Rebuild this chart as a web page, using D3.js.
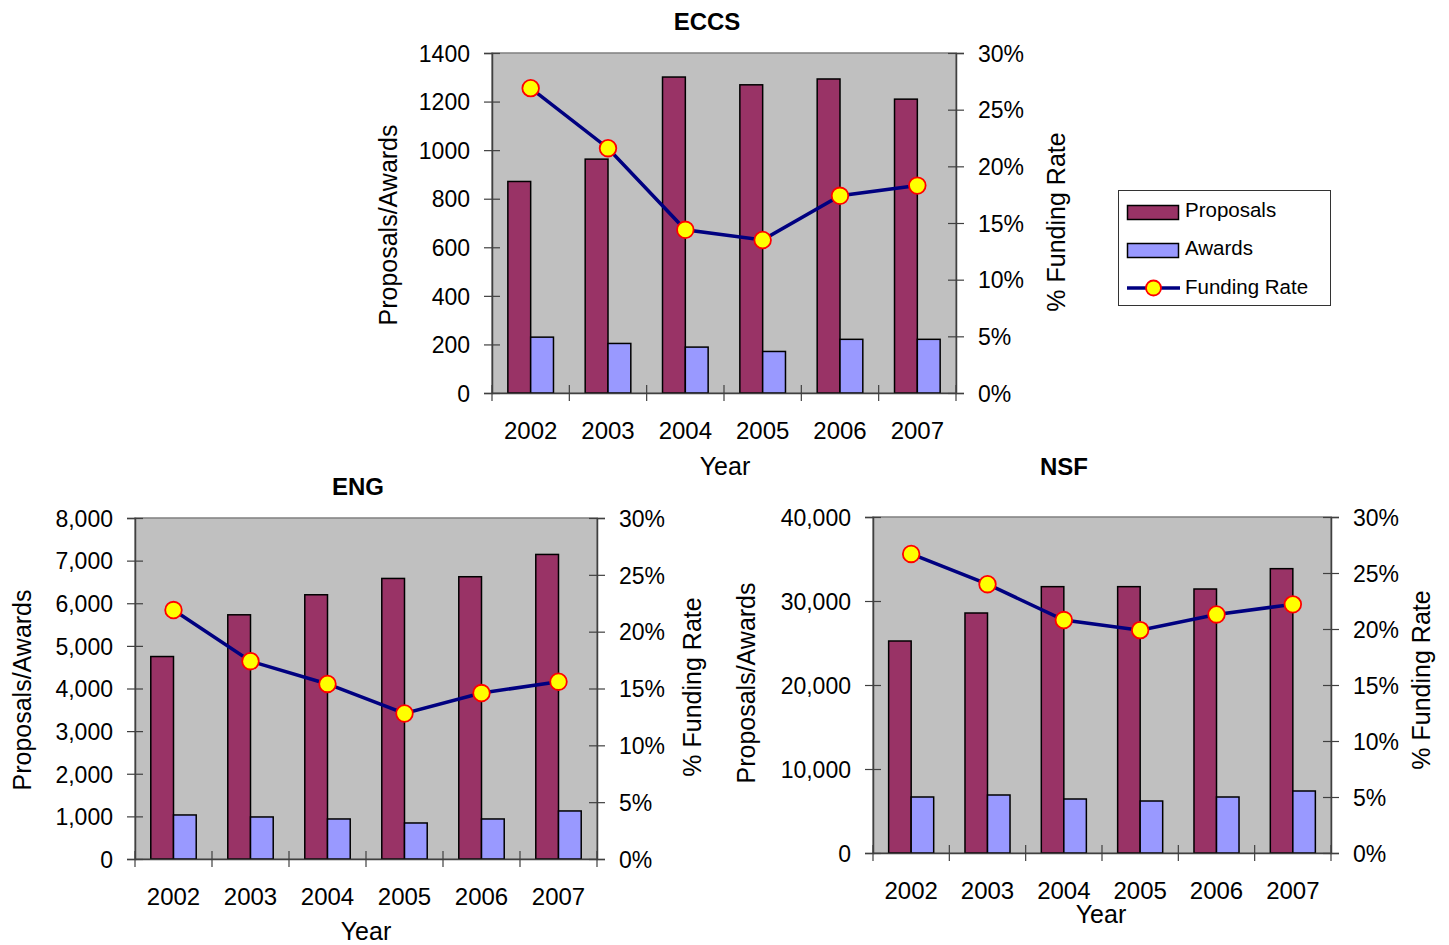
<!DOCTYPE html>
<html>
<head>
<meta charset="utf-8">
<script src="https://cdn.jsdelivr.net/npm/d3@7"></script>
<style>
  body { margin: 0; background: #fff; }
  svg { display: block; font-family: "Liberation Sans", Arial, sans-serif; }
</style>
</head>
<body>
<svg id="chart" width="1449" height="945"></svg>
<script>
// Fiscal years shown on every panel
const years = ["2002", "2003", "2004", "2005", "2006", "2007"];

// ECCS division
const eccsProposals = [871, 963, 1301, 1269, 1293, 1210];
const eccsAwards    = [230, 204, 189, 171, 221, 221];
const eccsRate      = [26.9, 21.6, 14.4, 13.5, 17.4, 18.3];

// Engineering directorate
const engProposals = [4750, 5729, 6199, 6582, 6622, 7145];
const engAwards    = [1033, 986, 939, 845, 939, 1127];
const engRate      = [21.9, 17.4, 15.4, 12.8, 14.6, 15.6];

// NSF overall
const nsfProposals = [25238, 28571, 31706, 31706, 31429, 33849];
const nsfAwards    = [6667, 6905, 6429, 6190, 6667, 7381];
const nsfRate      = [26.7, 24.0, 20.8, 19.9, 21.3, 22.2];

// Axis ticks
const eccsTicks = [0, 200, 400, 600, 800, 1000, 1200, 1400];
const engTicks  = [0, 1000, 2000, 3000, 4000, 5000, 6000, 7000, 8000];
const nsfTicks  = [0, 10000, 20000, 30000, 40000];
const rateTicks = [0, 5, 10, 15, 20, 25, 30];

const legendLabels = ["Proposals", "Awards", "Funding Rate"];

const COLORS = { proposals: "#993366", awards: "#9999FF", line: "#000080", marker: "#FFFF00", markerStroke: "#FF0000", plot: "#C0C0C0" };
const svg = d3.select("#chart");

function drawPanel(p) {
  const x = d3.scaleBand().domain(years).range([p.x0, p.x1]);
  const yL = d3.scaleLinear().domain([0, p.ticks[p.ticks.length - 1]]).range([p.y1, p.y0]);
  const yR = d3.scaleLinear().domain([0, 30]).range([p.y1, p.y0]);
  const g = svg.append("g");

  // plot area
  g.append("rect")
    .attr("x", p.x0).attr("y", p.y0)
    .attr("width", p.x1 - p.x0).attr("height", p.y1 - p.y0)
    .attr("fill", COLORS.plot).attr("stroke", "#808080").attr("stroke-width", 1.5);

  const bw = x.bandwidth() * 0.295;
  const off = (x.bandwidth() - 2 * bw) / 2;

  g.selectAll("rect.prop").data(p.proposals).join("rect").attr("class", "prop")
    .attr("x", (d, i) => x(years[i]) + off)
    .attr("y", d => yL(d))
    .attr("width", bw)
    .attr("height", d => yL(0) - yL(d))
    .attr("fill", COLORS.proposals).attr("stroke", "#000").attr("stroke-width", 1.5);

  g.selectAll("rect.awd").data(p.awards).join("rect").attr("class", "awd")
    .attr("x", (d, i) => x(years[i]) + off + bw)
    .attr("y", d => yL(d))
    .attr("width", bw)
    .attr("height", d => yL(0) - yL(d))
    .attr("fill", COLORS.awards).attr("stroke", "#000").attr("stroke-width", 1.5);

  // left axis
  const axL = g.append("g").attr("transform", `translate(${p.x0},0)`)
    .call(d3.axisLeft(yL).tickValues(p.ticks).tickFormat(p.fmt).tickSizeOuter(0).tickSize(8));
  // right axis
  const axR = g.append("g").attr("transform", `translate(${p.x1},0)`)
    .call(d3.axisRight(yR).tickValues(rateTicks).tickFormat(d => d + "%").tickSizeOuter(0).tickSize(8));
  // bottom axis (labels at band centres)
  const axB = g.append("g").attr("transform", `translate(0,${p.y1})`)
    .call(d3.axisBottom(x).tickSize(0).tickSizeOuter(0));

  [axL, axR, axB].forEach(a => {
    a.attr("font-family", null).attr("font-size", null);
    a.select(".domain").attr("stroke", "#404040").attr("stroke-width", 1.5);
    a.selectAll(".tick line").attr("stroke", "#404040").attr("stroke-width", 1.2);
    a.selectAll(".tick text").attr("fill", "#000");
  });
  axL.selectAll(".tick line").attr("x1", 8).attr("x2", -8);
  axL.selectAll(".tick text").attr("x", -22).attr("dy", "0.36em").style("font-size", "23px");
  axR.selectAll(".tick line").attr("x1", -8).attr("x2", 8);
  axR.selectAll(".tick text").attr("x", 22).attr("dy", "0.36em").style("font-size", "23px");
  axB.selectAll(".tick text").attr("y", 46).attr("dy", null).style("font-size", "24px");

  // category separator ticks on the x axis
  const bounds = years.map(y => x(y)).concat([x.range()[1]]);
  g.selectAll("line.xb").data(bounds).join("line").attr("class", "xb")
    .attr("x1", d => d).attr("x2", d => d)
    .attr("y1", p.y1 - 8).attr("y2", p.y1 + 8)
    .attr("stroke", "#404040").attr("stroke-width", 1.2);

  // funding rate line
  const cx = (d, i) => x(years[i]) + x.bandwidth() / 2;
  g.append("path").datum(p.rate)
    .attr("d", d3.line().x(cx).y(d => yR(d)))
    .attr("fill", "none").attr("stroke", COLORS.line).attr("stroke-width", 3.5);
  g.selectAll("circle.pt").data(p.rate).join("circle").attr("class", "pt")
    .attr("cx", cx).attr("cy", d => yR(d)).attr("r", 8.3)
    .attr("fill", COLORS.marker).attr("stroke", COLORS.markerStroke).attr("stroke-width", 1.8);

  // titles
  g.append("text").attr("x", p.title[0]).attr("y", p.title[1])
    .attr("text-anchor", "middle").attr("font-weight", "bold").attr("font-size", 24).text(p.name);
  g.append("text").attr("x", p.year[0]).attr("y", p.year[1])
    .attr("text-anchor", "middle").attr("font-size", 25).text("Year");
  g.append("text").attr("transform", `translate(${p.leftLabel[0]},${p.leftLabel[1]}) rotate(-90)`)
    .attr("text-anchor", "middle").attr("dy", "0.35em").attr("font-size", 25).text("Proposals/Awards");
  g.append("text").attr("transform", `translate(${p.rightLabel[0]},${p.rightLabel[1]}) rotate(-90)`)
    .attr("text-anchor", "middle").attr("dy", "0.35em").attr("font-size", 25).text("% Funding Rate");
}

const plainFmt = d3.format("d");
const commaFmt = d3.format(",");

drawPanel({
  name: "ECCS", proposals: eccsProposals, awards: eccsAwards, rate: eccsRate, ticks: eccsTicks, fmt: plainFmt,
  x0: 492, x1: 956, y0: 53, y1: 393,
  title: [707, 30], year: [725, 475], leftLabel: [388, 225], rightLabel: [1056, 222]
});
drawPanel({
  name: "ENG", proposals: engProposals, awards: engAwards, rate: engRate, ticks: engTicks, fmt: commaFmt,
  x0: 135, x1: 597, y0: 518, y1: 859,
  title: [358, 495], year: [366, 940], leftLabel: [22, 690], rightLabel: [692, 687]
});
drawPanel({
  name: "NSF", proposals: nsfProposals, awards: nsfAwards, rate: nsfRate, ticks: nsfTicks, fmt: commaFmt,
  x0: 873, x1: 1331, y0: 517, y1: 853,
  title: [1064, 475], year: [1101, 923], leftLabel: [746, 683], rightLabel: [1421, 680]
});

// legend
const lg = svg.append("g");
lg.append("rect").attr("x", 1118.5).attr("y", 190.5).attr("width", 212).attr("height", 115)
  .attr("fill", "#fff").attr("stroke", "#333").attr("stroke-width", 1);
const rows = [205.5, 243.5, 288];
lg.append("rect").attr("x", 1127.5).attr("y", rows[0]).attr("width", 51).attr("height", 14)
  .attr("fill", COLORS.proposals).attr("stroke", "#000").attr("stroke-width", 1.5);
lg.append("rect").attr("x", 1127.5).attr("y", rows[1]).attr("width", 51).attr("height", 14)
  .attr("fill", COLORS.awards).attr("stroke", "#000").attr("stroke-width", 1.5);
lg.append("line").attr("x1", 1127).attr("x2", 1180).attr("y1", rows[2]).attr("y2", rows[2])
  .attr("stroke", COLORS.line).attr("stroke-width", 3.5);
lg.append("circle").attr("cx", 1153.5).attr("cy", rows[2]).attr("r", 7.5)
  .attr("fill", COLORS.marker).attr("stroke", COLORS.markerStroke).attr("stroke-width", 1.8);
lg.selectAll("text.lt").data(legendLabels).join("text").attr("class", "lt")
  .attr("x", 1185).attr("y", (d, i) => [217, 255, 293.5][i])
  .attr("font-size", 20.5).text(d => d);
</script>
</body>
</html>
